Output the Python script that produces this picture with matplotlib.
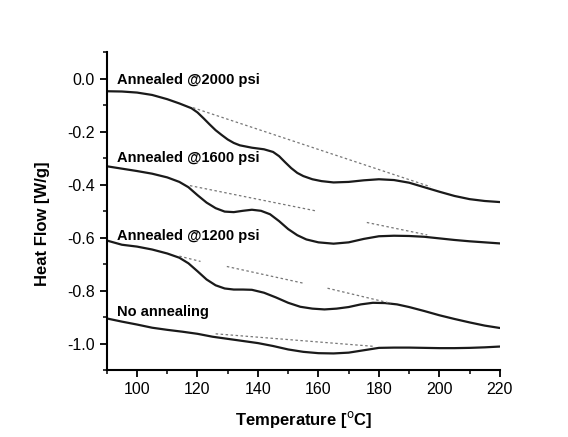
import matplotlib.pyplot as plt

# ================================
# DATA (DSC heat flow traces)
# ================================

temp_2000 = [90, 95, 100, 105, 110, 114, 118, 120, 122, 124, 126, 128, 130, 132, 134, 138, 142,
             145, 147, 149, 151, 153, 155, 158, 161, 165, 170, 175, 180, 185, 190, 195, 200, 205,
             210, 215, 220]
flow_2000 = [-0.048, -0.049, -0.053, -0.062, -0.078, -0.094, -0.112, -0.128, -0.15, -0.173, -0.195,
             -0.213, -0.23, -0.243, -0.252, -0.261, -0.267, -0.277, -0.293, -0.316, -0.338, -0.356,
             -0.368, -0.38, -0.387, -0.392, -0.39, -0.384, -0.38, -0.383, -0.393, -0.41, -0.427,
             -0.443, -0.455, -0.462, -0.466]

temp_1600 = [90, 95, 100, 105, 110, 114, 117, 120, 123, 126, 129, 132, 135, 138, 141, 144,
             147, 150, 153, 156, 160, 165, 170, 175, 180, 185, 190, 195, 200, 205, 210, 215, 220]
flow_1600 = [-0.331, -0.34, -0.349, -0.359, -0.373, -0.39, -0.41, -0.44, -0.468, -0.489, -0.502,
             -0.504, -0.499, -0.495, -0.499, -0.512, -0.538, -0.568, -0.591, -0.607, -0.618, -0.623,
             -0.618, -0.605, -0.595, -0.593, -0.594, -0.597, -0.603, -0.609, -0.614, -0.618, -0.622]

temp_1200 = [90, 95, 100, 105, 110, 114, 117, 120, 123, 126, 129, 132, 135, 138, 142, 146,
             150, 154, 158, 162, 166, 170, 174, 178, 182, 186, 190, 195, 200, 205, 210, 215, 220]
flow_1200 = [-0.611, -0.627, -0.634, -0.645, -0.66, -0.676, -0.697, -0.727, -0.758, -0.78, -0.792,
             -0.796, -0.796, -0.797, -0.808, -0.826, -0.846, -0.861, -0.868, -0.871, -0.868, -0.862,
             -0.852, -0.846, -0.847, -0.852, -0.862, -0.877, -0.893, -0.907, -0.92, -0.932, -0.941]

temp_none = [90, 95, 100, 105, 110, 115, 120, 125, 130, 135, 140, 145, 150, 155, 160,
             165, 170, 175, 180, 185, 190, 195, 200, 205, 210, 215, 220]
flow_none = [-0.905, -0.917, -0.928, -0.94, -0.948, -0.955, -0.963, -0.974, -0.982, -0.99, -0.998,
             -1.009, -1.022, -1.031, -1.036, -1.037, -1.034, -1.025, -1.016, -1.015, -1.015, -1.016,
             -1.017, -1.017, -1.016, -1.014, -1.011]

# baseline construction lines (start/end points)
base_2000 = [([118.5, 197.0], [-0.11, -0.408])]
base_1600 = [([117.5, 159.0], [-0.404, -0.499]),
             ([176.0, 196.0], [-0.543, -0.590])]
base_1200 = [([114.0, 121.0], [-0.670, -0.690]),
             ([129.7, 155.0], [-0.709, -0.772]),
             ([163.0, 184.0], [-0.791, -0.848])]
base_none = [([126.0, 178.0], [-0.963, -1.010])]

labels = ["Annealed @2000 psi", "Annealed @1600 psi", "Annealed @1200 psi", "No annealing"]
label_y = [-0.004, -0.298, -0.594, -0.880]

# ================================
# PLOT
# ================================

plt.rcParams['font.family'] = ['Liberation Sans', 'DejaVu Sans']

fig = plt.figure(figsize=(5.68, 4.37), dpi=100)
ax = fig.add_axes([0.188, 0.153, 0.692, 0.728])

for t, f in [(temp_2000, flow_2000), (temp_1600, flow_1600),
             (temp_1200, flow_1200), (temp_none, flow_none)]:
    ax.plot(t, f, color='#1a1a1a', lw=1.6, solid_capstyle='round', solid_joinstyle='round')

for segs in [base_2000, base_1600, base_1200, base_none]:
    for xs, ys in segs:
        ax.plot(xs, ys, color='#777777', lw=0.9, linestyle=(0, (2, 2)))

for text, y in zip(labels, label_y):
    ax.text(93.5, y, text, fontsize=10.5, fontweight='bold', va='center', ha='left')

ax.set_xlim(90, 220)
ax.set_ylim(-1.1, 0.1)
ax.set_xticks([100, 120, 140, 160, 180, 200, 220])
ax.set_xticks(range(90, 221, 10), minor=True)
ax.set_yticks([0.0, -0.2, -0.4, -0.6, -0.8, -1.0])
ax.set_yticks([0.1, -0.1, -0.3, -0.5, -0.7, -0.9, -1.1], minor=True)
ax.set_yticklabels(["0.0", "-0.2", "-0.4", "-0.6", "-0.8", "-1.0"])

ax.spines['top'].set_visible(False)
ax.spines['right'].set_visible(False)
ax.spines['left'].set_linewidth(1.5)
ax.spines['bottom'].set_linewidth(1.5)
ax.tick_params(which='major', direction='out', length=5, width=1.3, labelsize=11.5)
ax.tick_params(which='minor', direction='out', length=3, width=1.1)

ax.set_xlabel("Temperature [$^{\\rm o}$C]", fontsize=12, fontweight='bold', labelpad=9)
ax.set_ylabel("Heat Flow [W/g]", fontsize=12, fontweight='bold')
ax.yaxis.set_label_coords(-0.145, 0.46)

plt.savefig("out.png", dpi=100)
plt.close()
